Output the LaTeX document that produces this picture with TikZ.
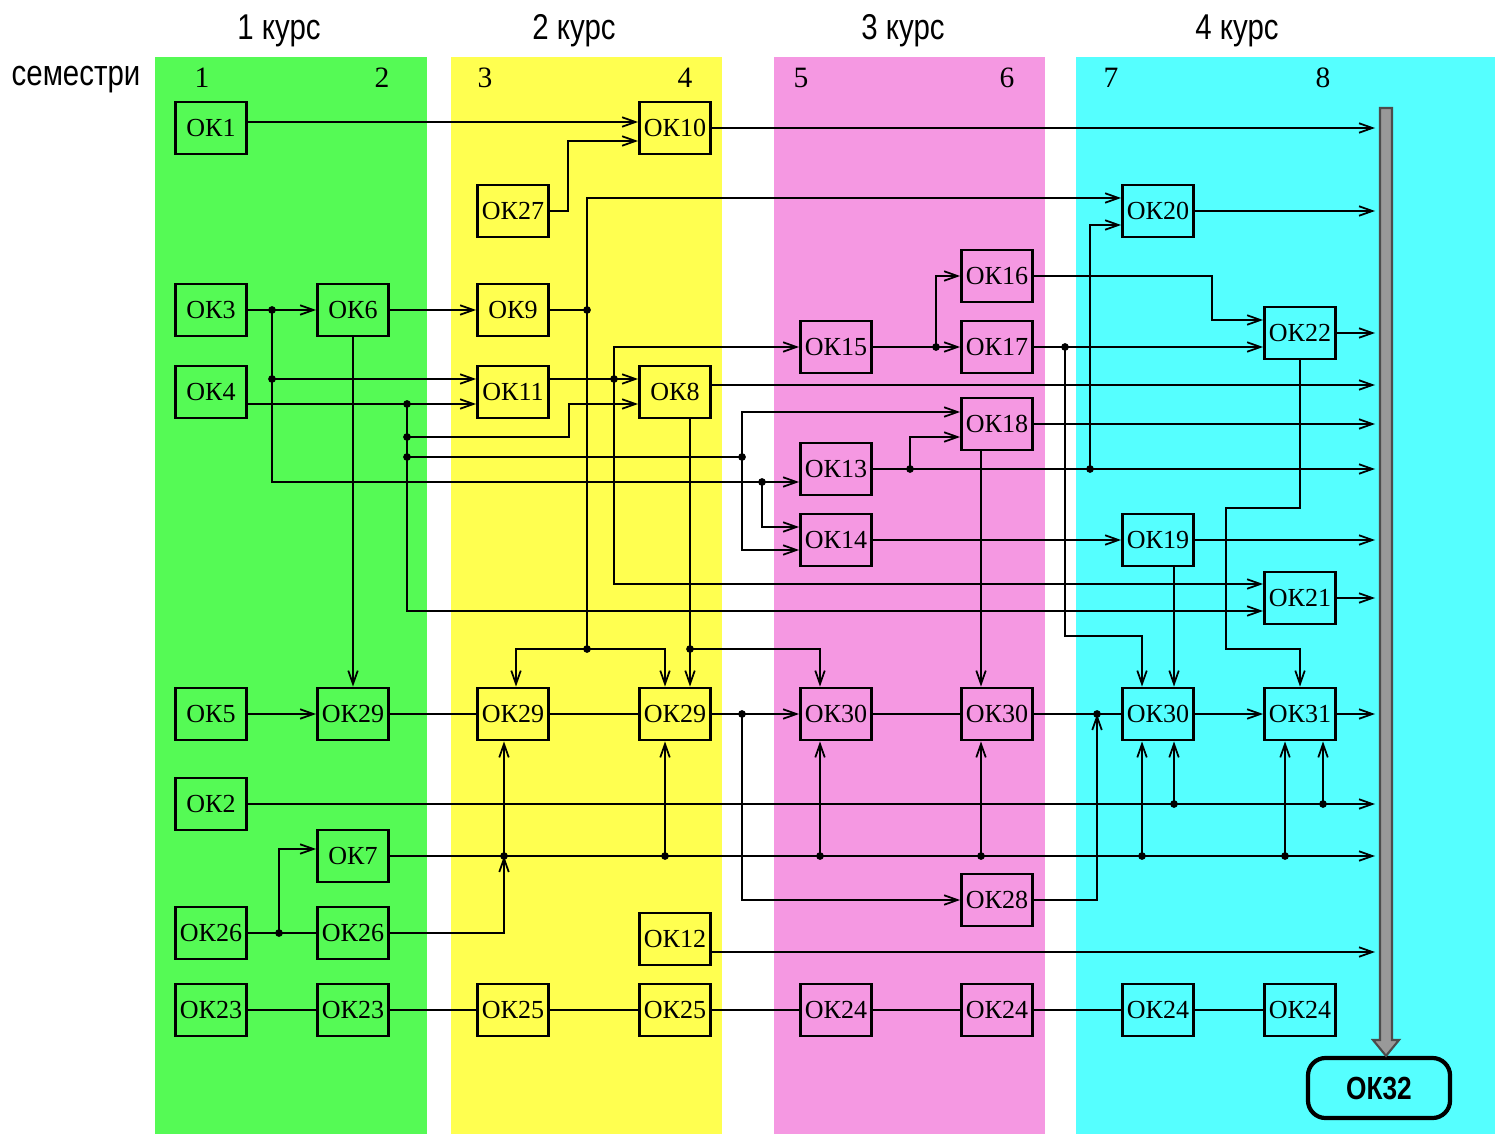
\documentclass[tikz,border=0pt]{standalone}
\usepackage{fontspec}
\setmainfont{Liberation Serif}
\newfontfamily\hdrfont[FakeStretch=0.82]{Liberation Sans}
\newfontfamily\endfont[FakeStretch=0.82]{Liberation Sans}
\usetikzlibrary{arrows.meta}
\definecolor{greenband}{RGB}{85,250,85}
\definecolor{yellowband}{RGB}{255,255,80}
\definecolor{pinkband}{RGB}{245,152,226}
\definecolor{cyanband}{RGB}{85,255,255}
\begin{document}
\begin{tikzpicture}[x=0.01cm, y=-0.01cm, line width=0.5pt,
    >={Straight Barb[length=3.8pt,width=2.7pt]},
    box/.style={draw, line width=0.8pt, minimum width=0.71cm, minimum height=0.52cm,
        inner sep=0.5pt, font=\fontsize{7.4}{8}\selectfont}]
    \useasboundingbox (0,0) rectangle (1495,1134);
    \fill[white] (0,0) rectangle (1495,1134);

    % course bands
    \foreach \a/\b/\c in {155/427/greenband, 451/722/yellowband, 774/1045/pinkband, 1076/1495/cyanband}
        \fill[\c] (\a,57) rectangle (\b,1134);

    \foreach \x/\t in {279/1, 574/2, 903/3, 1237/4}
        \node[font=\hdrfont\fontsize{10.2}{11}\selectfont] (course\t) at (\x,31) {\t\ курс};
    \node[font=\hdrfont\fontsize{10.2}{11}\selectfont] (semlabel) at (76,80) {семестри};
    \foreach \x/\t in {202/1, 382/2, 485/3, 685/4, 801/5, 1007/6, 1111/7, 1323/8}
        \node[font=\fontsize{8.4}{9}\selectfont] (sem\t) at (\x,78) {\t};

    % disciplines
    \foreach \n/\x/\y/\t in {ok1/211/128/1, ok10/675/128/10, ok27/513/211/27, ok20/1158/211/20,
        ok16/997/276/16, ok3/211/310/3, ok6/353/310/6, ok9/513/310/9, ok22/1300/333/22,
        ok15/836/347/15, ok17/997/347/17, ok4/211/392/4, ok11/513/392/11, ok8/675/392/8,
        ok18/997/424/18, ok13/836/469/13, ok14/836/540/14, ok19/1158/540/19, ok21/1300/598/21,
        ok5/211/714/5, ok29b/353/714/29, ok29c/513/714/29, ok29d/675/714/29, ok30e/836/714/30,
        ok30f/997/714/30, ok30g/1158/714/30, ok31/1300/714/31, ok2/211/804/2, ok7/353/856/7,
        ok28/997/900/28, ok26a/211/933/26, ok26b/353/933/26, ok12/675/939/12,
        ok23a/211/1010/23, ok23b/353/1010/23, ok25a/513/1010/25, ok25b/675/1010/25,
        ok24a/836/1010/24, ok24b/997/1010/24, ok24c/1158/1010/24, ok24d/1300/1010/24}
        \node[box] (\n) at (\x,\y) {ОК\t};

    % final block and the collecting bar
    \node[draw, line width=1.2pt, rounded corners=5pt, fill=cyanband, minimum width=1.42cm,
        minimum height=0.6cm, font=\endfont\bfseries\fontsize{9.1}{10}\selectfont] (ok32) at (1379,1088) {ОК32};
    \draw[fill=gray!80, draw=black!70, line width=0.6pt]
        (1380,108) -- (1392,108) -- (1392,1040) -- (1399,1040) -- (ok32.north -| 1386,0)
        -- (1373,1040) -- (1380,1040) -- cycle;
    \coordinate (bar) at (1375,0);

    % junctions
    \coordinate (jA) at (272,310);  \coordinate (jB) at (272,379);
    \coordinate (jC) at (762,482);  \coordinate (jD) at (407,404);
    \coordinate (jE) at (407,437);  \coordinate (jF) at (407,457);
    \coordinate (jG) at (742,457);  \coordinate (jH) at (587,310);
    \coordinate (jI) at (587,649);  \coordinate (jJ) at (614,379);
    \coordinate (jK) at (690,649);  \coordinate (jL) at (936,347);
    \coordinate (jM) at (1065,347); \coordinate (jN) at (910,469);
    \coordinate (jO) at (1090,469); \coordinate (jP) at (742,714);
    \coordinate (jQ) at (1097,714); \coordinate (jR) at (1174,804);
    \coordinate (jS) at (1323,804); \coordinate (jT) at (279,933);

    % upper part
    \draw[->] (ok1.east |- 0,122) -- (ok10.west |- 0,122);
    \draw[->] (ok27.east) -- (568,211) |- (ok10.west |- 0,141);
    \draw[->] (ok3) -- (ok6);
    \draw[->] (jA) |- (ok13.west |- 0,482);
    \draw[->] (jB) -- (ok11.west |- jB);
    \draw[->] (jC) |- (ok14.west |- 0,527);
    \draw[->] (ok4.east |- jD) -- (ok11.west |- jD);
    \draw[->] (jD) |- (ok21.west |- 0,611);
    \draw[->] (jE) -- (569,437) |- (ok8.west |- jD);
    \draw (jF) -- (jG);
    \draw[->] (jG) |- (ok18.west |- 0,412);
    \draw[->] (jG) |- (ok14.west |- 0,550);
    \draw[->] (ok6) -- (ok9);
    \draw[->] (ok6) -- (ok29b);
    \draw (ok9) -- (jH) -- (jI);
    \draw[->] (jH) |- (ok20.west |- 0,198);
    \draw[->] (jI) -| (ok29c.north -| 516,0);
    \draw[->] (jI) -| (ok29d.north -| 665,0);
    \draw (ok11.east |- jJ) -- (jJ);
    \draw[->] (jJ) -- (ok8.west |- jJ);
    \draw[->] (jJ) |- (ok15.west);
    \draw[->] (jJ) |- (ok21.west |- 0,584);
    \draw[->] (ok8.south -| jK) -- (ok29d.north -| jK);
    \draw[->] (jK) -| (ok30e.north -| 820,0);
    \draw (ok15) -- (jL);
    \draw[->] (jL) -- (ok17);
    \draw[->] (jL) |- (ok16.west);
    \draw[->] (ok16.east) -- (1212,276) |- (ok22.west |- 0,320);
    \draw (ok17) -- (jM);
    \draw[->] (jM) -- (ok22.west |- jM);
    \draw[->] (jM) |- (1142,636) -- (ok30g.north -| 1142,0);
    \draw[->] (ok22.south) |- (1226,508) |- (1300,649) -- (ok31.north);
    \draw[->] (ok18.south -| 981,0) -- (ok30f.north -| 981,0);
    \draw[->] (jN) |- (ok18.west |- 0,437);
    \draw[->] (jO) |- (ok20.west |- 0,225);
    \draw[->] (ok14) -- (ok19);
    \draw[->] (ok19.south -| 1174,0) -- (ok30g.north -| 1174,0);

    % into the bar
    \foreach \n in {ok10, ok20, ok22, ok18, ok13, ok19, ok21, ok31, ok2, ok7}
        \draw[->] (\n) -- (bar |- \n);
    \draw[->] (ok8.east |- 0,385) -- (bar |- 0,385);
    \draw[->] (ok12.east |- 0,952) -- (bar |- 0,952);

    % main row
    \draw[->] (ok5) -- (ok29b);
    \draw (ok29b) -- (ok29c) -- (ok29d) -- (jP);
    \draw[->] (jP) -- (ok30e);
    \draw[->] (jP) |- (ok28);
    \draw (ok30e) -- (ok30f) -- (ok30g);
    \draw[->] (ok28) -| (jQ);
    \draw[->] (ok30g) -- (ok31);
    \draw[->] (jR) -- (ok30g.south -| jR);
    \draw[->] (jS) -- (ok31.south -| jS);

    % lower part
    \draw (ok26a) -- (ok26b);
    \draw[->] (jT) |- (ok7.west |- 0,849);
    \draw[->] (ok26b) -| (504,856);
    \foreach \x/\b in {504/ok29c, 665/ok29d, 820/ok30e, 981/ok30f, 1142/ok30g, 1285/ok31} {
        \fill (\x,856) circle (1.1pt);
        \draw[->] (\x,856) -- (\b.south -| \x,0);
    }
    \draw (ok23a) -- (ok23b) -- (ok25a) -- (ok25b) -- (ok24a) -- (ok24b) -- (ok24c) -- (ok24d);

    \foreach \p in {jA,jB,jC,jD,jE,jF,jG,jH,jI,jJ,jK,jL,jM,jN,jO,jP,jQ,jR,jS,jT}
        \fill (\p) circle (1.1pt);
\end{tikzpicture}
\end{document}
